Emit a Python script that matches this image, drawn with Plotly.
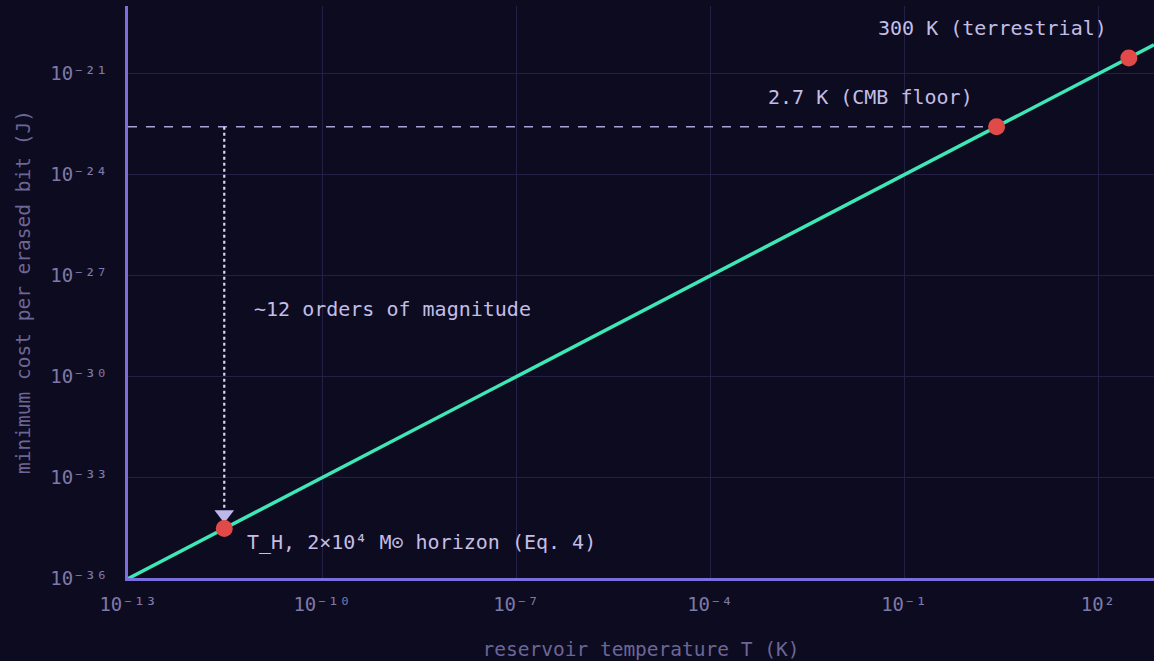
import math
import plotly.graph_objects as go

# Landauer bound E = kT ln2, sampled at the endpoints and the marked reservoirs
line_T = [1e-13, 3.08e-12, 2.7, 300.0, 735.0]
line_E = [9.57e-37, 2.95e-35, 2.58e-23, 2.87e-21, 7.03e-21]

# Marked reservoirs
point_T = [3.08e-12, 2.7, 300.0]
point_E = [2.95e-35, 2.58e-23, 2.87e-21]
point_labels = ["T_H, 2×10⁴ M⊙ horizon (Eq. 4)", "2.7 K (CMB floor)", "300 K (terrestrial)"]

x_tickvals = [1e-13, 1e-10, 1e-7, 1e-4, 1e-1, 1e2]
x_ticktext = ["10⁻¹³", "10⁻¹⁰", "10⁻⁷", "10⁻⁴", "10⁻¹", "10²"]
y_tickvals = [1e-36, 1e-33, 1e-30, 1e-27, 1e-24, 1e-21]
y_ticktext = ["10⁻³⁶", "10⁻³³", "10⁻³⁰", "10⁻²⁷", "10⁻²⁴", "10⁻²¹"]

span_label = "~12 orders of magnitude"
span_label_E = 1e-28

BG = "#0d0b20"
GRID = "#241f45"
AXIS = "#7b6fe0"
TEAL = "#3fe6b6"
RED = "#e24a4a"
LAV = "#a8a3d4"
TXT = "#c2bee6"
TICK = "#7e79a8"
TITLE = "#6c6696"
MONO = "DejaVu Sans Mono"

fig = go.Figure()

# dashed guide at the CMB floor
fig.add_trace(go.Scatter(
    x=[line_T[0], point_T[1]], y=[point_E[1], point_E[1]],
    mode="lines", line=dict(color=LAV, width=1.5, dash="dash"),
    hoverinfo="skip", showlegend=False))

# dotted drop from the CMB floor to the horizon temperature
arrow_tip_E = point_E[0] * 10 ** 0.42
fig.add_trace(go.Scatter(
    x=[point_T[0], point_T[0]], y=[point_E[1], arrow_tip_E * 10 ** 0.15],
    mode="lines", line=dict(color="#d8d5f2", width=2.2, dash="dot"),
    hoverinfo="skip", showlegend=False))
fig.add_trace(go.Scatter(
    x=[point_T[0]], y=[arrow_tip_E],
    mode="markers", marker=dict(symbol="triangle-down", size=17, color="#bdb8ea"),
    hoverinfo="skip", showlegend=False))

# bound line
fig.add_trace(go.Scatter(
    x=line_T, y=line_E, mode="lines",
    line=dict(color=TEAL, width=3.5), showlegend=False))

# marked points
fig.add_trace(go.Scatter(
    x=point_T, y=point_E, mode="markers",
    marker=dict(color=RED, size=17), showlegend=False))

annotations = [
    dict(x=point_T[0], y=point_E[0], text=point_labels[0], xanchor="left", yanchor="middle",
         xshift=21, yshift=-13),
    dict(x=point_T[1], y=point_E[1], text=point_labels[1], xanchor="right", yanchor="middle",
         xshift=-22, yshift=30),
    dict(x=point_T[2], y=point_E[2], text=point_labels[2], xanchor="right", yanchor="middle",
         xshift=-20, yshift=30),
    dict(x=point_T[0], y=span_label_E, text=span_label, xanchor="left", yanchor="middle",
         xshift=28, yshift=0),
]
for a in annotations:
    a.update(xref="x", yref="y", showarrow=False, font=dict(family=MONO, size=20, color=TXT))
    a["x"] = math.log10(a["x"])
    a["y"] = math.log10(a["y"])

fig.update_layout(
    width=1154, height=661,
    paper_bgcolor=BG, plot_bgcolor=BG,
    margin=dict(l=128, r=0, t=6, b=83),
    annotations=annotations,
    font=dict(family=MONO, color=TICK),
)
fig.update_xaxes(
    type="log", range=[-13, 2.866],
    tickvals=x_tickvals, ticktext=x_ticktext,
    tickfont=dict(family=MONO, size=19, color=TICK),
    showgrid=True, gridcolor=GRID, gridwidth=1,
    showline=True, linecolor=AXIS, linewidth=2.5,
    zeroline=False, ticks="", ticklabelstandoff=7,
    title=dict(text="reservoir temperature T (K)", font=dict(family=MONO, size=19.5, color=TITLE),
               standoff=30),
)
fig.update_yaxes(
    type="log", range=[-36, -19],
    tickvals=y_tickvals, ticktext=y_ticktext,
    tickfont=dict(family=MONO, size=19, color=TICK),
    showgrid=True, gridcolor=GRID, gridwidth=1,
    showline=True, linecolor=AXIS, linewidth=2.5,
    zeroline=False, ticks="", ticklabelstandoff=14,
    title=dict(text="minimum cost per erased bit (J)", font=dict(family=MONO, size=19.5, color=TITLE),
               standoff=15),
)

fig.write_html("out.html")
